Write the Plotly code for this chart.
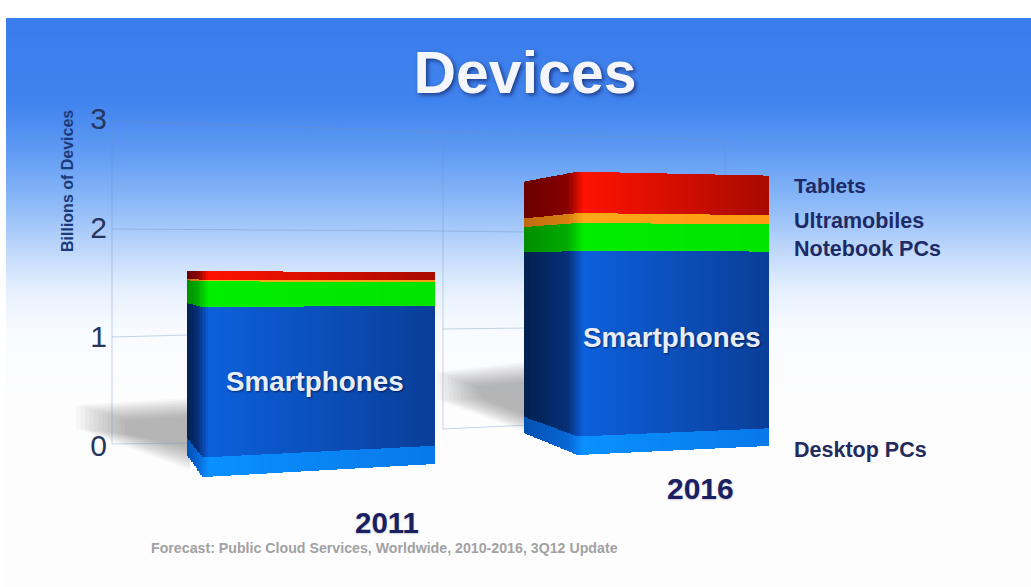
import plotly.graph_objects as go

# ---- data (billions of devices, read at the front corner of each block) ----
years = ["2011", "2016"]
desktop_pcs = [0.18, 0.17]
smartphones = [1.38, 1.70]
notebook_pcs = [0.24, 0.26]
ultramobiles = [0.01, 0.09]
tablets = [0.08, 0.38]
series_names = ["Desktop PCs", "Smartphones", "Notebook PCs", "Ultramobiles", "Tablets"]
y_ticks = [0, 1, 2, 3]

W, H = 1031, 587
Y0, PX = 445.0, 109.0


def Y(py):
    return (Y0 - py) / PX


# ---- perspective of the two blocks (x in page px; base on the y axis; scale of heights) ----
GEOM = [
    dict(left=187, corner=203, right=435, soft=(5, 6),
         base=(-0.092, -0.294, -0.174), scale=(0.893, 1.0, 0.93)),
    dict(left=524, corner=578, right=768, soft=(10, 6),
         base=(0.110, -0.092, -0.009), scale=(0.887, 1.0, 0.954)),
]
# colour stops: side dark, side light, front bright, front dark
SHADES = {
    "Desktop PCs": ("#0450b0", "#0866d6", "#0a90ff", "#0878ea"),
    "Smartphones": ("#03204f", "#062f78", "#0c60dc", "#0a3e98"),
    "Notebook PCs": ("#008c00", "#00ac00", "#00ee00", "#00e400"),
    "Ultramobiles": ("#c06a10", "#d88010", "#ffa818", "#ff9a10"),
    "Tablets": ("#6a0000", "#880000", "#ff1200", "#a80a00"),
}
STEP = 1.5


def lerp(a, b, t):
    return a + (b - a) * t


def mix(c1, c2, t):
    a = [int(c1[i:i + 2], 16) for i in (1, 3, 5)]
    b = [int(c2[i:i + 2], 16) for i in (1, 3, 5)]
    return "rgb(%d,%d,%d)" % tuple(round(lerp(p, q, t)) for p, q in zip(a, b))


def at(g, triple, x):
    if x <= g["corner"]:
        return lerp(triple[0], triple[1], (x - g["left"]) / (g["corner"] - g["left"]))
    return lerp(triple[1], triple[2], (x - g["corner"]) / (g["right"] - g["corner"]))


def shade(g, st, x):
    a, b = g["corner"] - g["soft"][0], g["corner"] + g["soft"][1]
    if x <= a:
        return mix(st[0], st[1], (x - g["left"]) / max(a - g["left"], 1))
    if x <= b:
        return mix(st[1], st[2], (x - a) / (b - a))
    return mix(st[2], st[3], (x - b) / (g["right"] - b))


stack = [desktop_pcs, smartphones, notebook_pcs, ultramobiles, tablets]

fig = go.Figure()
for s, name in enumerate(series_names):
    xs, hs, bases, cols = [], [], [], []
    for b, g in enumerate(GEOM):
        x = g["left"] + STEP / 2
        while x < g["right"]:
            k = at(g, g["scale"], x)
            bases.append(at(g, g["base"], x) + k * sum(stack[j][b] for j in range(s)))
            hs.append(k * stack[s][b])
            xs.append(x)
            cols.append(shade(g, SHADES[name], x))
            x += STEP
    fig.add_trace(go.Bar(x=xs, y=hs, base=bases, width=STEP + 0.5, name=name,
                         marker=dict(color=cols, line=dict(width=0)),
                         showlegend=False, hoverinfo="name"))

# ---- background gradient, wall grid and soft shadows ----
shapes = []
stops = [(18, "#3a7cec"), (100, "#4083ee"), (150, "#5f9af3"), (200, "#8ab8f8"),
         (250, "#bfd8fb"), (290, "#e6f0fe"), (330, "#f8fbff"), (400, "#fdfdfe"), (587, "#fdfdfe")]
for i in range(len(stops) - 1):
    y1, c1 = stops[i]
    y2, c2 = stops[i + 1]
    n = max(int((y2 - y1) / 2), 1)
    for j in range(n):
        a = y1 + (y2 - y1) * j / n
        b = y1 + (y2 - y1) * (j + 1) / n + 0.5
        shapes.append(dict(type="rect", xref="paper", yref="paper", layer="below",
                           x0=6 / W, x1=1, y0=1 - min(b, H) / H, y1=1 - a / H,
                           fillcolor=mix(c1, c2, j / n), line=dict(width=0)))


def page_path(pts, closed=False):
    return "M" + " L".join("%g,%g" % (x / W, 1 - y / H) for x, y in pts) + (" Z" if closed else "")


def poly(pts, color):
    shapes.append(dict(type="path", xref="paper", yref="paper", layer="below",
                       path=page_path(pts, True), fillcolor=color, line=dict(width=0)))


# shadows: nested translucent polygons that fade outwards
for i in range(12):
    f = i / 11
    c = "rgba(70,70,80,0.04)"
    poly([(lerp(76, 125, f), lerp(405, 420, f)), (190, lerp(398, 416, f)),
          (190, lerp(470, 448, f)), (lerp(76, 125, f), lerp(428, 434, f))], c)
    poly([(lerp(437, 475, f), lerp(372, 386, f)), (526, lerp(362, 382, f)),
          (526, lerp(432, 416, f)), (lerp(437, 482, f), lerp(400, 398, f))], c)


def wall(pts):
    shapes.append(dict(type="path", xref="paper", yref="paper", layer="below",
                       path=page_path(pts), line=dict(color="rgba(110,145,190,0.38)", width=1)))


wall([(112, 121), (112, 444)])
wall([(443, 132), (443, 429)])
wall([(725, 140), (725, 175)])
wall([(112, 121), (443, 132), (725, 140)])
wall([(112, 229), (443, 231), (530, 232)])
wall([(112, 337), (190, 335)])
wall([(443, 329), (530, 328)])
wall([(112, 444), (190, 443)])
wall([(443, 429), (530, 425)])

# ---- text ----
FONT = "Liberation Sans"


def label(txt, x, y, size, color, anchor="center", angle=0, shadow=None):
    f = dict(family=FONT, size=size, color=color)
    if shadow:
        f["shadow"] = shadow
    fig.add_annotation(text="<b>%s</b>" % txt, x=x / W, y=1 - y / H, xref="paper", yref="paper",
                       showarrow=False, xanchor=anchor, yanchor="middle", textangle=angle, font=f)


label("Billions of Devices", 67, 181, 16, "#1d3a78", angle=-90)
label(series_names[1], 315, 382, 27.8, "#e8eef9", shadow="1px 1px 2px rgba(0,0,40,0.6)")
label(series_names[1], 672, 337, 27.8, "#e8eef9", shadow="1px 1px 2px rgba(0,0,40,0.6)")
label(years[0], 387, 522, 29.5, "#1a2060", shadow="0px 1px 2px rgba(0,0,60,0.2)")
label(years[1], 700, 488, 30, "#1a2060", shadow="0px 1px 2px rgba(0,0,60,0.2)")
label(series_names[4], 792, 185, 21, "#1c2a66", anchor="left")
label(series_names[3], 792, 221, 21.5, "#1c2a66", anchor="left")
label(series_names[2], 792, 249, 21.5, "#1c2a66", anchor="left")
label(series_names[0], 792, 450, 21.5, "#232a5c", anchor="left")
label("Forecast: Public Cloud Services, Worldwide, 2010-2016, 3Q12 Update", 149, 548, 14.2,
      "#a2a2a2", anchor="left")

fig.update_layout(
    width=W, height=H, margin=dict(l=0, r=0, t=0, b=0), paper_bgcolor="#ffffff",
    plot_bgcolor="rgba(0,0,0,0)", barmode="overlay", bargap=0, showlegend=False, shapes=shapes,
    title=dict(text="<b>Devices</b>", x=525 / W, xanchor="center", y=1 - 72 / H, yanchor="middle",
               font=dict(family=FONT, size=59, color="#f4f6fb",
                         shadow="2px 2px 4px rgba(0,0,50,0.55)")),
    xaxis=dict(domain=[108 / W, 1], range=[108, W], visible=False, fixedrange=True),
    yaxis=dict(range=[Y(H), Y(0)], tickvals=y_ticks, ticktext=[str(v) for v in y_ticks],
               showgrid=False, zeroline=False, showline=False, ticks="", automargin=False,
               tickfont=dict(family=FONT, size=30, color="#26365e")),
)
fig.write_html("out.html", config={"displayModeBar": False},
               post_script="document.body.style.margin='0';")
